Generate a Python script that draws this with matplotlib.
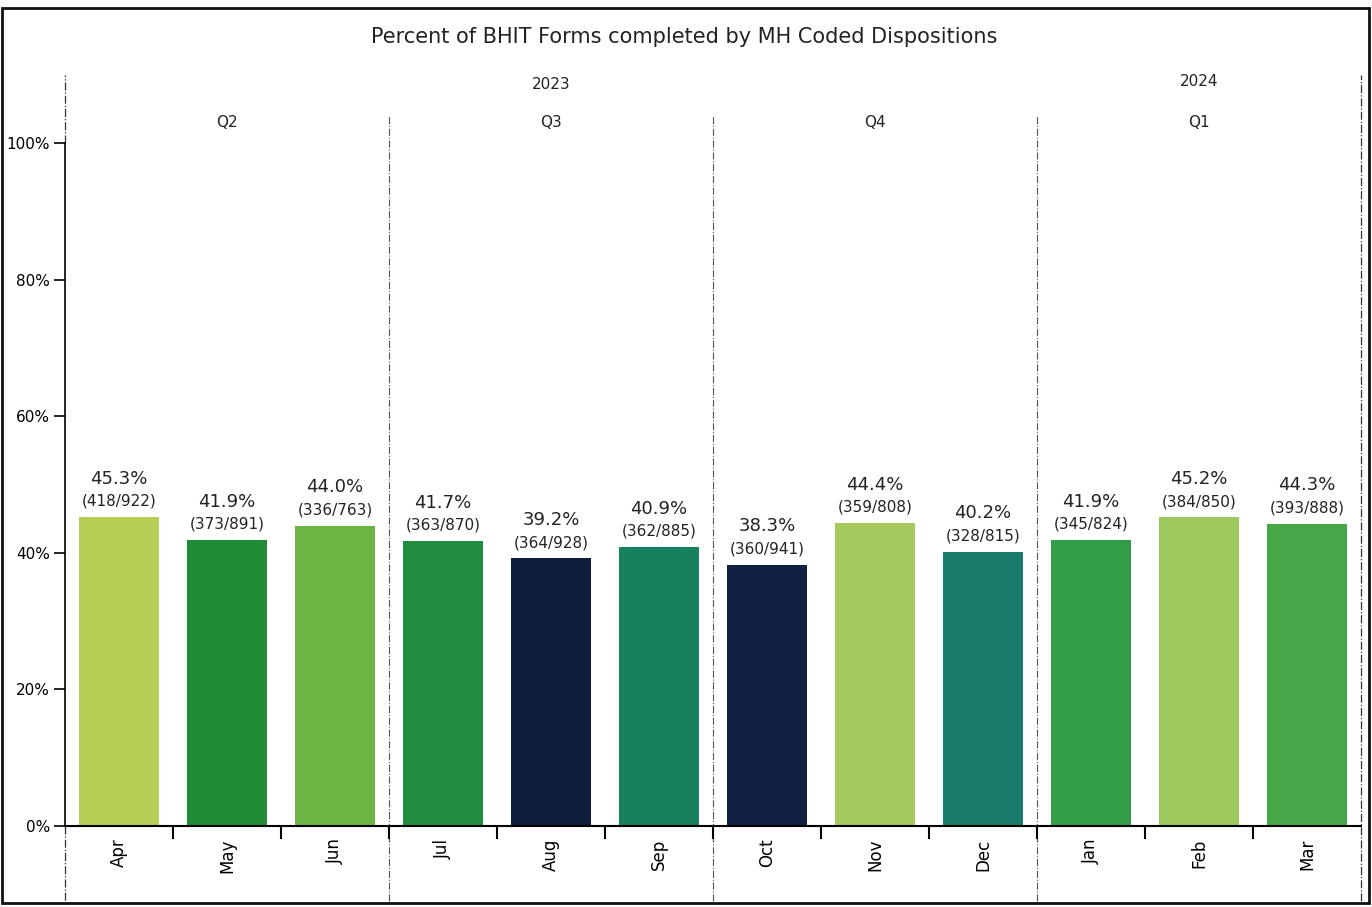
import matplotlib
matplotlib.use("Agg")
import matplotlib.pyplot as plt
from matplotlib.patches import Rectangle

months = ["Apr", "May", "Jun", "Jul", "Aug", "Sep", "Oct", "Nov", "Dec", "Jan", "Feb", "Mar"]
percents = [45.3, 41.9, 44.0, 41.7, 39.2, 40.9, 38.3, 44.4, 40.2, 41.9, 45.2, 44.3]
numerators = [418, 373, 336, 363, 364, 362, 360, 359, 328, 345, 384, 393]
denominators = [922, 891, 763, 870, 928, 885, 941, 808, 815, 824, 850, 888]
quarters = ["Q2", "Q3", "Q4", "Q1"]
years = ["2023", "2024"]
bar_colors = ["#b8cf55", "#1e8c34", "#6cb444", "#1f8c3e", "#0d1d3a", "#17805e",
              "#112142", "#a5c95c", "#197b69", "#309d48", "#9fc85c", "#47a646"]

plt.rcParams["font.family"] = ["DejaVu Sans"]
fig = plt.figure(figsize=(13.72, 9.07), dpi=100)
ax = fig.add_axes([0.0474, 0.0893, 0.9446, 0.828])

x = list(range(len(months)))
ax.bar(x, percents, width=0.74, color=bar_colors, zorder=2)

for xi, p, n, d in zip(x, percents, numerators, denominators):
    ax.annotate(f"({n}/{d})", (xi, p), xytext=(0, 6), textcoords="offset points",
                ha="center", va="bottom", fontsize=11, color="#222222")
    ax.annotate(f"{p:.1f}%", (xi, p), xytext=(0, 21), textcoords="offset points",
                ha="center", va="bottom", fontsize=13, color="#222222")

ax.set_xlim(-0.5, 11.5)
ax.set_ylim(0, 110)
ax.set_yticks([0, 20, 40, 60, 80, 100])
ax.set_yticklabels(["0%", "20%", "40%", "60%", "80%", "100%"], fontsize=11)
ax.tick_params(axis="y", direction="out", length=8, width=1.2, pad=3)

# major ticks at boundaries (no label), minor at centers with month labels
ax.set_xticks([i + 0.5 for i in range(11)])
ax.set_xticklabels([])
ax.tick_params(axis="x", which="major", direction="out", length=9, width=1.5)
ax.set_xticks(x, minor=True)
ax.set_xticklabels(months, minor=True, rotation=90, fontsize=12)
ax.tick_params(axis="x", which="minor", length=0, pad=9)

for s in ["top", "right"]:
    ax.spines[s].set_visible(False)
ax.spines["left"].set_bounds(0, 100)
ax.spines["left"].set_linewidth(1.2)
ax.spines["bottom"].set_linewidth(1.5)

# dashed separators
ax.plot([-0.5, -0.5], [100, 110], ls="-.", color="#333333", lw=0.9, clip_on=False)
ax.plot([-0.5, -0.5], [0, -11], ls="-.", color="#333333", lw=0.9, clip_on=False)
for b in [2.5, 5.5, 8.5]:
    ax.plot([b, b], [-11, 104], ls="-.", color="#555555", lw=0.8, clip_on=False, zorder=1)
ax.plot([11.5, 11.5], [-11, 110], ls="-.", color="#333333", lw=0.9, clip_on=False)

# quarter & year labels
for qi, q in enumerate(quarters):
    ax.text(1 + 3 * qi, 103, q, ha="center", va="center", fontsize=11, color="#222222")
ax.text(4, 108.6, years[0], ha="center", va="center", fontsize=11, color="#222222")
ax.text(10, 109.0, years[1], ha="center", va="center", fontsize=11, color="#222222")

fig.text(0.499, 0.959, "Percent of BHIT Forms completed by MH Coded Dispositions",
         ha="center", va="center", fontsize=15, color="#222222")

# outer frame
fig.patches.append(Rectangle((0.0015, 0.004), 0.996, 0.987, transform=fig.transFigure,
                             fill=False, edgecolor="#111111", lw=2))

fig.savefig("out.png", dpi=100)
